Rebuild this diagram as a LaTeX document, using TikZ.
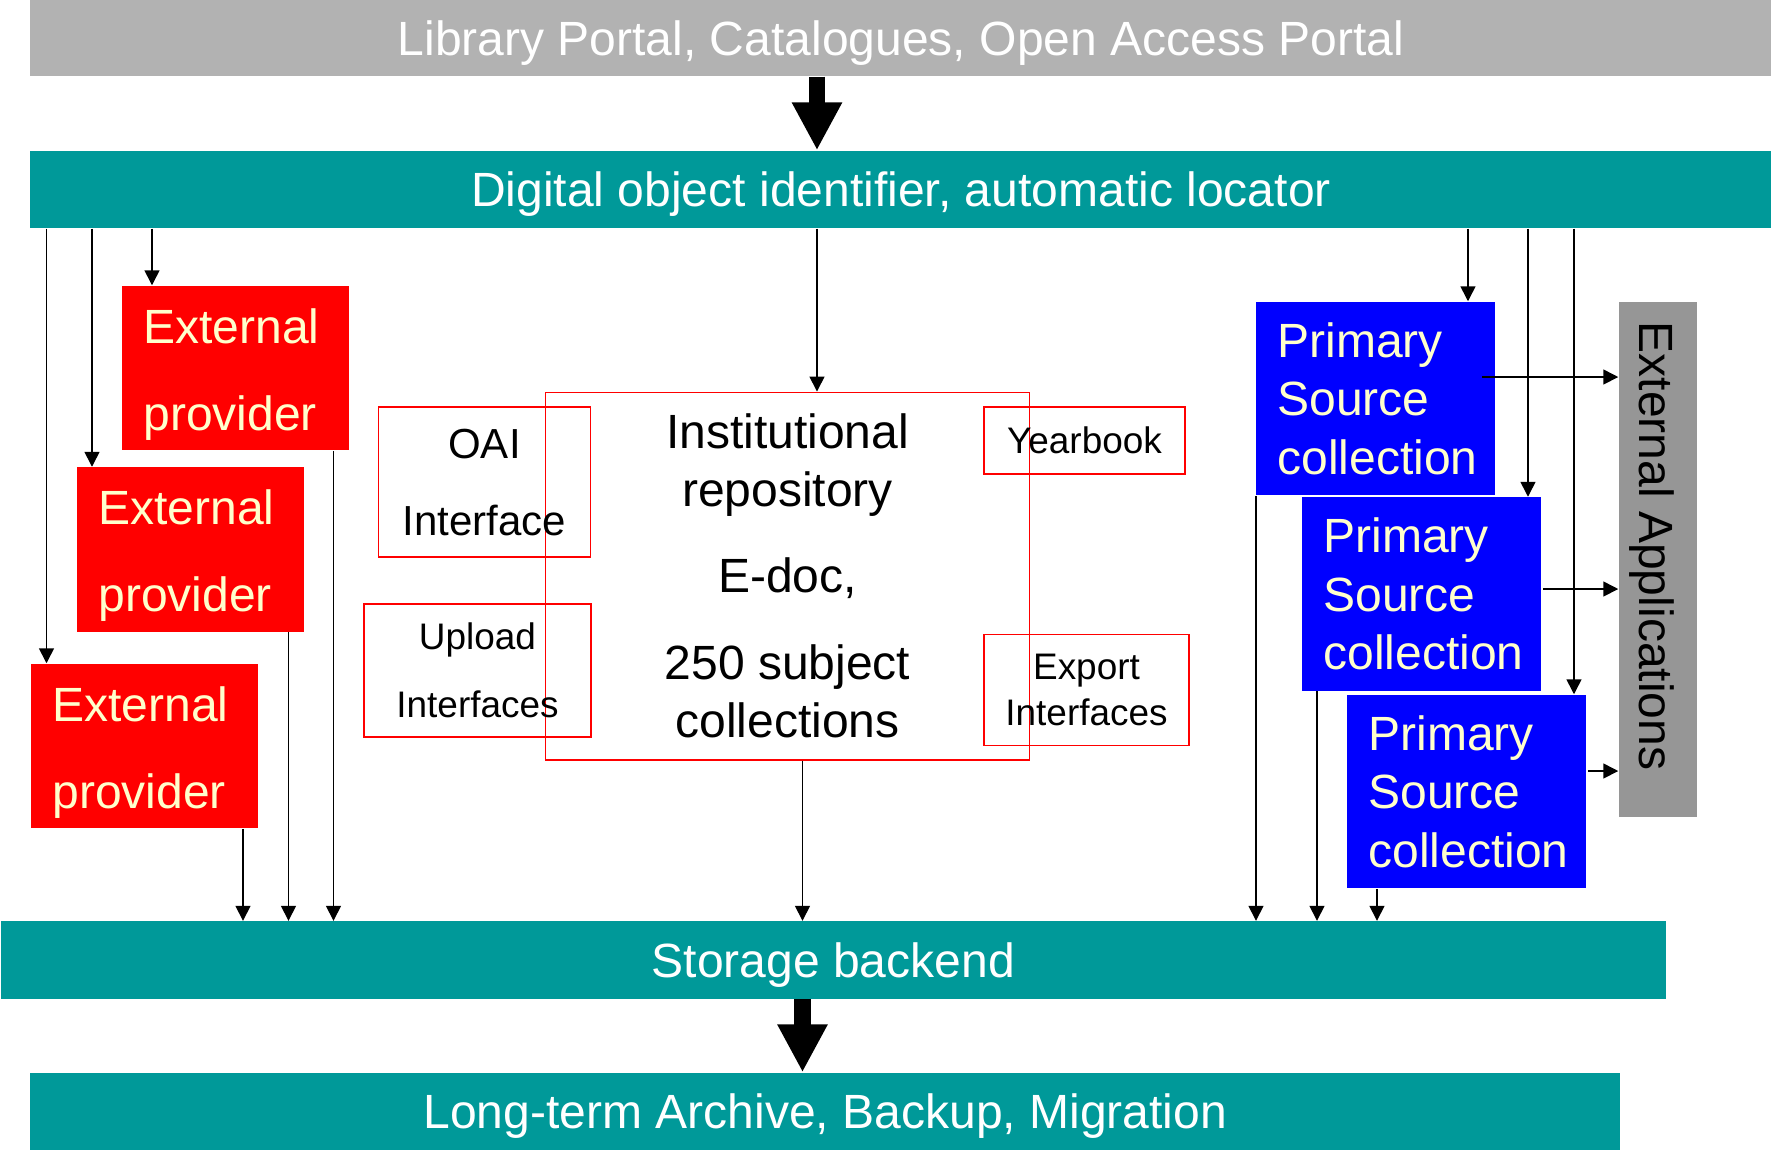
\documentclass[tikz,border=0pt]{standalone}
\usepackage{fontspec}
\setmainfont{Liberation Sans}
\usetikzlibrary{arrows.meta}

\definecolor{bargray}{HTML}{B2B2B2}
\definecolor{appgray}{HTML}{969696}
\definecolor{barteal}{HTML}{009999}
\definecolor{paleyellow}{HTML}{FFFFCC}

\begin{document}
\begin{tikzpicture}[x=0.01cm,y=-0.01cm,
    layerbar/.style={fill=barteal,text=white,inner sep=0pt,minimum height=0.77cm,
        text height=0.344cm,text depth=0pt,font=\fontsize{13.66}{16}\selectfont},
    provbox/.style={fill=red,text=paleyellow,inner xsep=0.215cm,inner ysep=0pt,
        text width=1.84cm,align=left,minimum height=1.64cm,text height=0.47cm,
        font=\fontsize{13.66}{24.75}\selectfont},
    srcbox/.style={fill=blue,text=paleyellow,inner xsep=0.215cm,inner ysep=0pt,
        text width=1.96cm,align=left,minimum height=1.93cm,
        font=\fontsize{13.66}{16.6}\selectfont},
    redframe/.style={draw=red,line width=0.5pt,inner sep=0pt,align=center,text depth=0pt},
    thinarrow/.style={-{Triangle[length=0.15cm,width=0.15cm]},line width=0.45pt},
    fatarrow/.style={-{Triangle[length=0.48cm,width=0.47cm]},line width=0.165cm}]
  \useasboundingbox (0,0) rectangle (1771,1150);

  % layers
  \node[layerbar,fill=bargray,minimum width=17.40cm,minimum height=0.76cm] (portal) at (901,38) {Library Portal, Catalogues, Open Access Portal};
  \node[layerbar,minimum width=17.40cm] (doi) at (901,189.5) {Digital object identifier, automatic locator};
  \node[layerbar,minimum width=16.645cm] (storage) at (833.25,960) {Storage backend};
  \node[layerbar,minimum width=15.895cm] (archive) at (825.25,1111.5) {Long-term Archive, Backup, Migration};

  % external providers
  \node[provbox] (prov1) at (235.5,368) {External\\provider};
  \node[provbox] (prov2) at (190.5,549.5) {External\\provider};
  \node[provbox] (prov3) at (144.5,746) {External\\provider};

  % repository
  \node[redframe,minimum width=4.835cm,minimum height=3.67cm,font=\fontsize{13.66}{16.5}\selectfont] (repo) at (787.5,576)
      {Institutional\\repository\\[7.7pt]E-doc,\\[8.5pt]250 subject\\collections};
  \node[redframe,minimum width=2.12cm,minimum height=1.50cm,font=\fontsize{11.95}{21.9}\selectfont] (oai) at (484.5,482) {OAI\\Interface};
  \node[redframe,minimum width=2.27cm,minimum height=1.33cm,font=\fontsize{10.5}{19.3}\selectfont] (upload) at (477.5,670.5) {Upload\\Interfaces};
  \node[redframe,minimum width=2.01cm,minimum height=0.67cm,font=\fontsize{10.5}{13.1}\selectfont] (yearbook) at (1084.5,440.5) {Yearbook};
  \node[redframe,minimum width=2.05cm,minimum height=1.11cm,font=\fontsize{10.5}{13.1}\selectfont] (export) at (1086.5,690) {Export\\Interfaces};

  % primary sources
  \node[srcbox] (src1) at (1375.5,398.5) {Primary\\Source\\collection};
  \node[srcbox] (src2) at (1421.5,594) {Primary\\Source\\collection};
  \node[srcbox] (src3) at (1466.5,791.5) {Primary\\Source\\collection};

  \node[fill=appgray,minimum width=0.78cm,minimum height=5.15cm,inner sep=0pt] (apps) at (1658,559.5) {};
  \node[rotate=-90,inner sep=0pt,text height=0.344cm,text depth=0pt,font=\fontsize{13.66}{16}\selectfont] (appstext) at (1657,546) {External Applications};

  % connector positions
  \coordinate (l1) at (46.5,0);  \coordinate (l2) at (92,0);    \coordinate (l3) at (152,0);
  \coordinate (lc) at (817,0);
  \coordinate (r1) at (1468,0);  \coordinate (r2) at (1528,0);  \coordinate (r3) at (1574,0);
  \coordinate (b1) at (243,0);   \coordinate (b2) at (288.5,0); \coordinate (b3) at (333.5,0);
  \coordinate (bc) at (802.5,0);
  \coordinate (b4) at (1256,0);  \coordinate (b5) at (1317,0);  \coordinate (b6) at (1377,0);
  \coordinate (h1) at (1482,377); \coordinate (h2) at (1543,589); \coordinate (h3) at (1588,771);

  \draw[fatarrow] (portal.south -| lc) -- (doi.north -| lc);
  \draw[fatarrow] (storage.south -| bc) -- (archive.north -| bc);

  \draw[thinarrow] (doi.south -| l1) -- (prov3.north -| l1);
  \draw[thinarrow] (doi.south -| l2) -- (prov2.north -| l2);
  \draw[thinarrow] (doi.south -| l3) -- (prov1.north -| l3);
  \draw[thinarrow] (doi.south -| lc) -- (repo.north -| lc);
  \draw[thinarrow] (doi.south -| r1) -- (src1.north -| r1);
  \draw[thinarrow] (doi.south -| r2) -- (src2.north -| r2);
  \draw[thinarrow] (doi.south -| r3) -- (src3.north -| r3);

  \draw[thinarrow] (h1) -- (h1 -| apps.west);
  \draw[thinarrow] (h2) -- (h2 -| apps.west);
  \draw[thinarrow] (h3) -- (h3 -| apps.west);

  \draw[thinarrow] (prov3.south -| b1) -- (storage.north -| b1);
  \draw[thinarrow] (prov2.south -| b2) -- (storage.north -| b2);
  \draw[thinarrow] (prov1.south -| b3) -- (storage.north -| b3);
  \draw[thinarrow] (repo.south -| bc) -- (storage.north -| bc);
  \draw[thinarrow] (src1.south -| b4) -- (storage.north -| b4);
  \draw[thinarrow] (src2.south -| b5) -- (storage.north -| b5);
  \draw[thinarrow] (src3.south -| b6) -- (storage.north -| b6);
\end{tikzpicture}
\end{document}
